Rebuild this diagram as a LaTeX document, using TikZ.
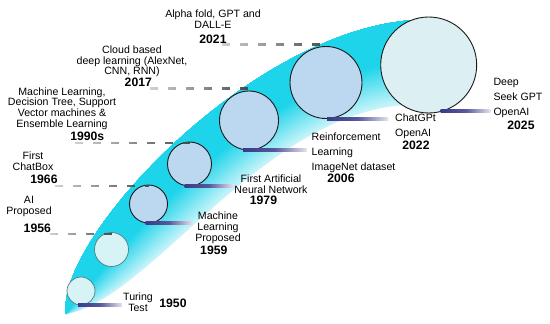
\documentclass[tikz,border=0pt]{standalone}
\usepackage{fontspec}
\setmainfont{Liberation Sans}
\usetikzlibrary{calc,fadings}

\definecolor{bandcyan}{RGB}{30,212,234}
\definecolor{palecyan}{RGB}{216,243,246}
\definecolor{paleblue}{RGB}{187,216,240}
\definecolor{paleteal}{RGB}{220,240,243}
\definecolor{rimteal}{RGB}{80,125,132}
\definecolor{dashgray}{RGB}{75,75,75}
\definecolor{linenavy}{RGB}{58,58,138}

\tikzfading[name=dashfade, left color=transparent!75, right color=transparent!0]

\tikzset{
  early/.style={circle, draw=rimteal, line width=0.7pt, fill=palecyan, inner sep=0pt},
  era/.style={circle, draw=black!90, line width=0.9pt, fill=paleblue, inner sep=0pt},
  lbl/.style={font=\fontsize{10.6}{10.8}\selectfont, align=center, inner sep=0pt},
  lblr/.style={font=\fontsize{10.6}{14.8}\selectfont, align=left, anchor=west, inner sep=0pt},
  yr/.style={font=\bfseries\fontsize{12.2}{13}\selectfont, inner sep=0pt},
  dashconn/.style={line width=2.6pt, draw=dashgray, dash pattern=on 8pt off 10pt, path fading=dashfade},
  navyconn/.style={left color=linenavy, right color=linenavy!15!white, middle color=linenavy!85!white}
}

\begin{document}
\begin{tikzpicture}[x=1pt, y=-1pt]
  \useasboundingbox (0,0) rectangle (550,324);

  % the curved band
  \coordinate (o0) at (66,314);
  \coordinate (o1) at (55,240);
  \coordinate (o2) at (250,30);
  \coordinate (o3) at (415,20);
  \coordinate (i1) at (150,300);
  \coordinate (i2) at (260,115);
  \coordinate (i3) at (405,105);
  \foreach \i in {50,49,...,1} {
    \pgfmathsetmacro\k{\i/50}
    \pgfmathtruncatemacro\p{min(100,175-150*\k)}
    \fill[bandcyan!\p!white] (o0) .. controls (o1) and (o2) .. (o3)
      -- ($(o3)!\k!(i3)$) .. controls ($(o2)!\k!(i2)$) and ($(o1)!\k!(i1)$) .. (o0) -- cycle;
  }

  % circles
  \node[early, minimum size=28pt] (c1) at (81,291) {};
  \node[early, minimum size=34pt] (c2) at (111.5,249.5) {};
  \node[era, minimum size=38pt] (c3) at (148.5,204) {};
  \node[era, minimum size=44pt] (c4) at (189.5,164) {};
  \node[era, minimum size=59pt] (c5) at (249,120.5) {};
  \node[era, minimum size=72pt] (c6) at (326,82.5) {};
  \node[era, minimum size=96pt, fill=paleteal] (c7) at (428.7,65) {};

  % texts
  \node[lbl] (t2021) at (213,18.8) {Alpha fold, GPT and\\DALL-E};
  \node[yr] (y2021) at (213,39.3) {2021};
  \node[lbl] (t2017) at (132,61.3) {Cloud based\\deep learning (AlexNet,\\CNN, RNN)};
  \node[yr] (y2017) at (138.3,82.7) {2017};
  \node[lbl] (t1990) at (62,108.5) {Machine Learning,\\Decision Tree, Support\\Vector machines \&\\Ensemble Learning};
  \node[yr] (y1990) at (87.3,136.7) {1990s};
  \node[lbl] (t1966) at (33,161) {First\\ChatBox};
  \node[yr] (y1966) at (44,179.3) {1966};
  \node[lbl] (t1956) at (29,206.8) {AI\\Proposed};
  \node[yr] (y1956) at (37.3,228) {1956};
  \node[lbl] (t1950) at (138,302.5) {Turing\\Test};
  \node[yr] (y1950) at (173,303) {1950};
  \node[lbl] (t1959) at (218,227.5) {Machine\\Learning\\Proposed};
  \node[yr] (y1959) at (213.8,250.3) {1959};
  \node[lbl] (t1979) at (271,184.3) {First Artificial\\Neural Network};
  \node[yr] (y1979) at (263.5,200.3) {1979};
  \node[lblr] (t2006) at (311.5,152.5) {Reinforcement\\Learning\\ImageNet dataset};
  \node[yr] (y2006) at (341,178.5) {2006};
  \node[lblr] (t2022) at (395,126.3) {ChatGPt\\OpenAI};
  \node[yr] (y2022) at (416,145) {2022};
  \node[lblr] (t2025) at (493.3,98) {Deep\\Seek GPT\\OpenAI};
  \node[yr] (y2025) at (521,125.7) {2025};

  % dashed leaders from the years to the circles
  \coordinate (d2021) at (222,44.5);
  \coordinate (d2017) at (150,88.5);
  \coordinate (d1990) at (75,143);
  \coordinate (d1966) at (55,186);
  \coordinate (d1956) at (50,234);
  \draw[dashconn] (d2021) -- (d2021 -| c6.north) ++(0,2) ++(0,-4);
  \draw[dashconn] (d2017) -- (d2017 -| c5.north) ++(0,2) ++(0,-4);
  \draw[dashconn] (d1990) -- (d1990 -| c4.north) ++(0,2) ++(0,-4);
  \draw[dashconn] (d1966) -- (d1966 -| c3.north) ++(0,2) ++(0,-4);
  \draw[dashconn] (d1956) -- (d1956 -| c2.north) ++(0,2) ++(0,-4);

  % solid leaders from the circles to the texts
  \shade[navyconn] ($(c1.south)+(-3,-1.5)$) rectangle ($(t1950.west |- c1.south)+(-1,1.5)$);
  \shade[navyconn] ($(c3.south)+(-3,-1.5)$) rectangle ($(t1959.west |- c3.south)+(-3,1.5)$);
  \shade[navyconn] ($(c4.south)+(-5,-1.5)$) rectangle ($(t1979.west |- c4.south)+(-1,1.5)$);
  \shade[navyconn] ($(c5.south)+(-6,-1.5)$) rectangle ($(t2006.west |- c5.south)+(-5,1.5)$);
  \shade[navyconn] ($(c6.south)+(1,-1.5)$) rectangle ($(t2022.west |- c6.south)+(-7,1.5)$);
  \shade[navyconn] ($(c7.-72)+(-3,-1.5)$) rectangle ($(t2025.west |- c7.-72)+(-3,1.5)$);
\end{tikzpicture}
\end{document}
